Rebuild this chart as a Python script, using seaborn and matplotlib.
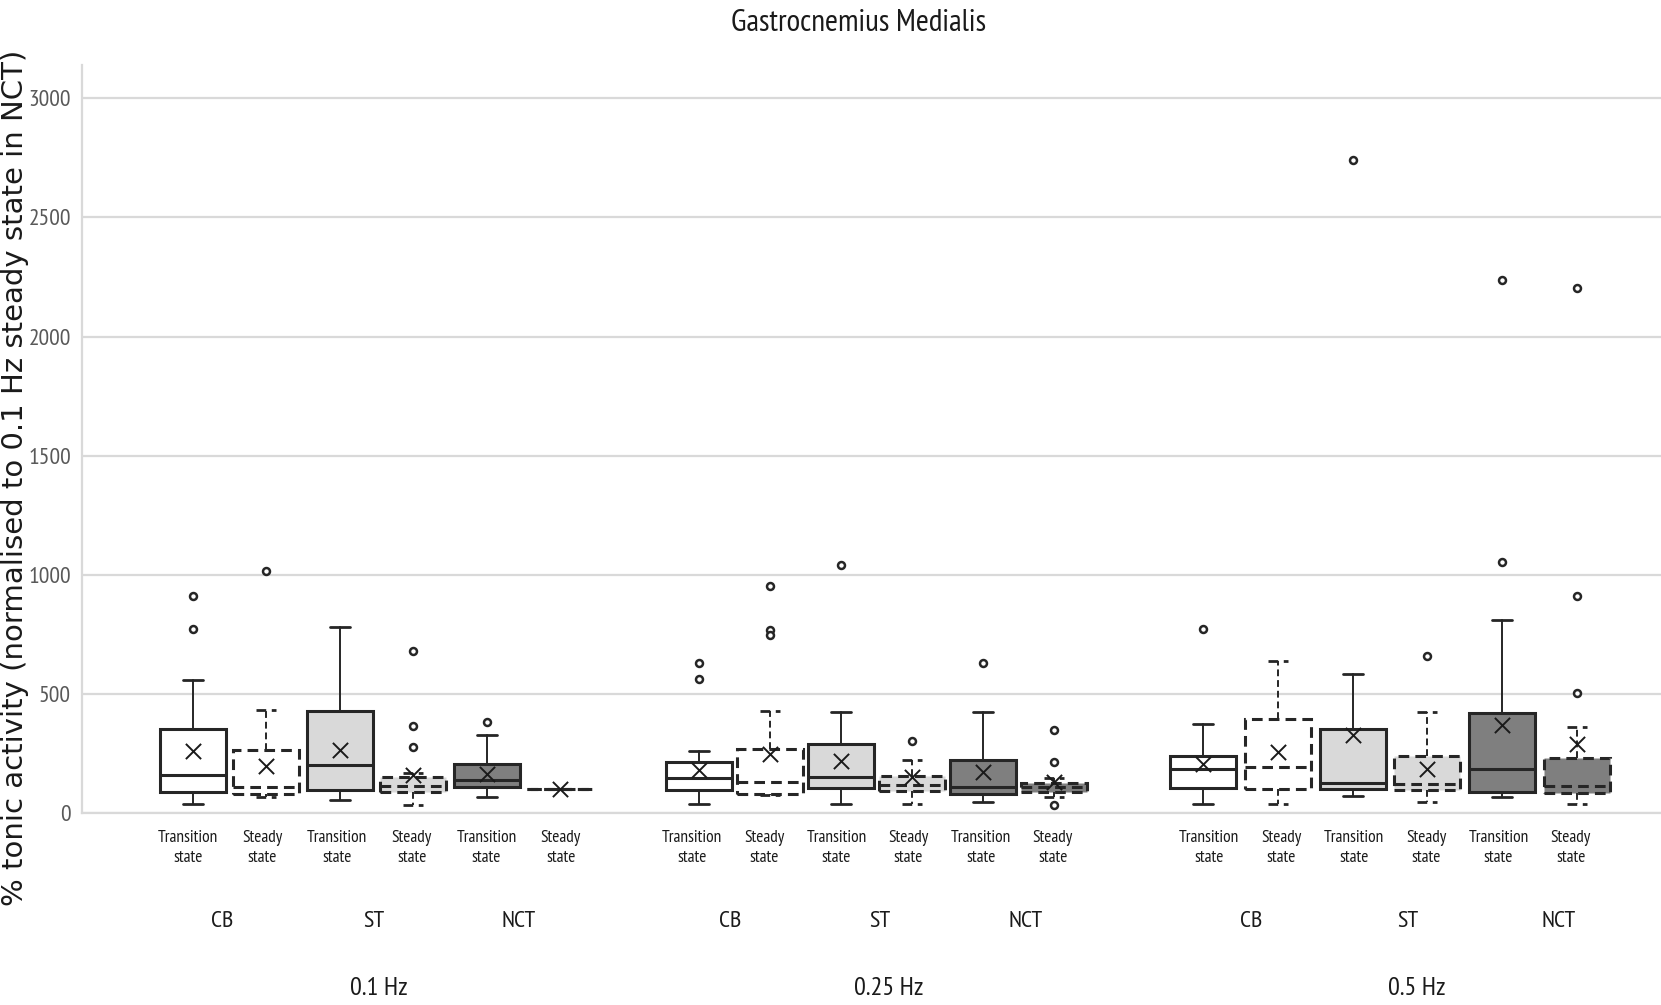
import numpy as np
import pandas as pd
import matplotlib
matplotlib.use("Agg")
import matplotlib.pyplot as plt
import seaborn as sns

# ---------------- data ----------------
frequencies = ["0.1 Hz", "0.25 Hz", "0.5 Hz"]
conditions = ["CB", "ST", "NCT"]
states = ["Transition\nstate", "Steady\nstate"]

# order: for each frequency -> CB-T, CB-S, ST-T, ST-S, NCT-T, NCT-S
q1 = [89, 78, 98, 89, 109, 100,
      95, 78, 104, 92, 81, 88,
      106, 100, 100, 95, 89, 86]
median = [161, 109, 200, 114, 140, 100,
          147, 130, 151, 116, 109, 109,
          186, 193, 125, 120, 184, 112]
q3 = [354, 266, 428, 151, 204, 100,
      214, 270, 288, 154, 224, 125,
      239, 396, 354, 239, 418, 231]
whisker_low = [36, 69, 53, 34, 68, 100,
               36, 74, 39, 39, 48, 69,
               36, 36, 72, 46, 68, 39]
whisker_high = [558, 431, 781, 169, 326, 100,
                262, 428, 424, 224, 424, 147,
                374, 638, 584, 422, 810, 359]
means = [260, 197, 263, 158, 162, 100,
         179, 249, 218, 151, 172, 130,
         204, 256, 329, 186, 368, 291]
outliers = [[912, 772], [1016], [], [680, 364, 276], [382], [],
            [628, 562], [953, 768, 747], [1040], [302], [631], [350, 214, 32],
            [771], [], [2741], [660], [1053, 2237], [912, 504, 2202]]

condition_colors = {"CB": "#ffffff", "ST": "#d9d9d9", "NCT": "#7f7f7f"}

# ---------------- style / layout ----------------
sns.set_theme(style="whitegrid")
plt.rcParams["font.family"] = ["DejaVu Sans"]
NARROW = ["PT Sans Narrow", "DejaVu Sans"]

fig = plt.figure(figsize=(16.61, 10.05), dpi=100)
# axes spans pixel columns 82..1661; x axis uses pixel-like layout units
ax = fig.add_axes([82 / 1661, 1 - 813 / 1005, 1 - 82 / 1661, (813 - 65) / 1005])

group_start = [193, 699, 1203]
group_step = [73.4, 71.0, 74.8]
label_start = [188, 692, 1209]
label_step = [74.6, 72.2, 72.4]
cond_label_x = [[222, 374, 519], [730, 880, 1026], [1251, 1408, 1559]]
freq_label_x = [379, 889, 1417]

rows = []
positions = []
tick_pos = []
for g, fq in enumerate(frequencies):
    for j in range(6):
        k = g * 6 + j
        pos = group_start[g] + j * group_step[g]
        positions.append(pos)
        tick_pos.append(label_start[g] + j * label_step[g])
        rows.append(dict(pos=pos, mean=means[k]))

edge = "#262626"
for k, pos in enumerate(positions):
    g, rem = divmod(k, 6)
    cond = conditions[rem // 2]
    steady = rem % 2 == 1
    ls = (0, (3.5, 2)) if steady else "-"
    stats = [dict(q1=q1[k], med=median[k], q3=q3[k], whislo=whisker_low[k],
                  whishi=whisker_high[k], fliers=outliers[k], mean=means[k])]
    ax.bxp(stats, positions=[pos], widths=66, patch_artist=True,
           showmeans=False, manage_ticks=False,
           boxprops=dict(facecolor=condition_colors[cond], edgecolor=edge,
                         linewidth=2.2, linestyle=ls),
           medianprops=dict(color=edge, linewidth=2.2, linestyle=ls),
           whiskerprops=dict(color=edge, linewidth=1.4, linestyle=ls),
           capprops=dict(color=edge, linewidth=2.0, linestyle=ls),
           capwidths=20,
           flierprops=dict(marker="o", markersize=5, markerfacecolor="white",
                           markeredgecolor=edge, markeredgewidth=1.8, linestyle="none"))

df = pd.DataFrame(rows)
sns.scatterplot(data=df, x="pos", y="mean", marker="x", s=120, color="#1a1a1a",
                linewidth=1.4, ax=ax, legend=False, zorder=5)

ax.set_xlim(82, 1661)
ax.set_ylim(0, 3140)
ax.set_yticks(np.arange(0, 3001, 500))
ax.set_xticks(tick_pos)
ax.set_xticklabels([states[i % 2] for i in range(len(tick_pos))],
                   fontsize=12.5, family=NARROW, linespacing=1.4)
ax.tick_params(axis="x", length=0, pad=12, colors="#1a1a1a")
ax.tick_params(axis="y", length=0, pad=8, labelsize=17, colors="#595959")
for lab in ax.get_yticklabels():
    lab.set_family(NARROW)
ax.set_xlabel("")
ax.set_ylabel("")
ax.grid(axis="x", visible=False)
ax.grid(axis="y", color="#d9d9d9", linewidth=1.6)
ax.set_facecolor("white")
for side in ["top", "right"]:
    ax.spines[side].set_visible(False)
for side in ["left", "bottom"]:
    ax.spines[side].set_color("#d9d9d9")
    ax.spines[side].set_linewidth(1.6)

trans = ax.get_xaxis_transform()
for g, fq in enumerate(frequencies):
    for c, cond in enumerate(conditions):
        ax.text(cond_label_x[g][c], -0.1444, cond, transform=trans, ha="center",
                va="center", fontsize=17.5, family=NARROW, color="#1a1a1a")
    ax.text(freq_label_x[g], -0.234, fq, transform=trans,
            ha="center", va="center", fontsize=19, family=NARROW, color="#1a1a1a")

fig.text(859 / 1661, 1 - 23 / 1005, "Gastrocnemius Medialis", ha="center", va="center",
         fontsize=22.5, family=NARROW, color="#1a1a1a")
fig.text(15 / 1661, 1 - 478 / 1005,
         "% tonic activity (normalised to 0.1 Hz steady state in NCT)",
         rotation=90, ha="center", va="center", fontsize=21, color="#1a1a1a")

fig.savefig("out.png", dpi=100, facecolor="white")
